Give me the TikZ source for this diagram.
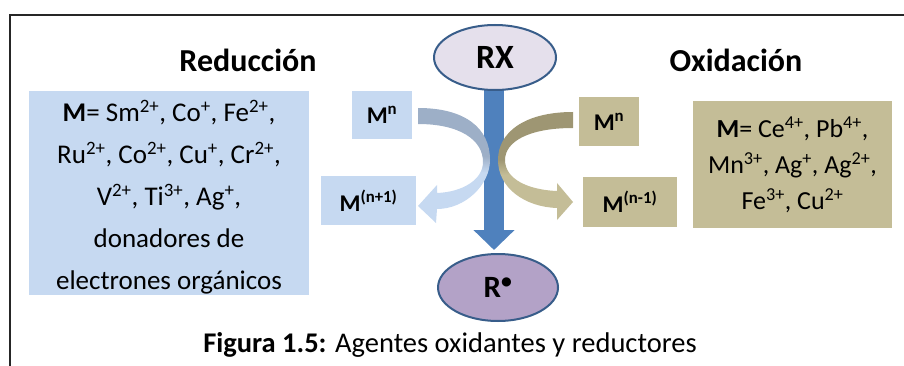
\documentclass[tikz,border=0pt]{standalone}
\usepackage{fontspec}
\setmainfont{Carlito}
\usetikzlibrary{shapes.geometric,arrows.meta}

\definecolor{redfill}{HTML}{C6D9F1}
\definecolor{reddark}{HTML}{9DAFC7}
\definecolor{oxfill}{HTML}{C4BD97}
\definecolor{oxdark}{HTML}{9E9673}
\definecolor{shaftblue}{HTML}{4F81BD}
\definecolor{rimblue}{HTML}{385D8A}
\definecolor{rxfill}{HTML}{E5E0EC}
\definecolor{rfill}{HTML}{B3A2C7}

\pgfdeclareverticalshading{redshade}{100bp}{color(0bp)=(redfill); color(47bp)=(redfill); color(54bp)=(reddark); color(100bp)=(reddark)}
\pgfdeclareverticalshading{oxshade}{100bp}{color(0bp)=(oxfill); color(46bp)=(oxfill); color(53bp)=(oxdark); color(100bp)=(oxdark)}

\tikzset{
  title/.style={font=\fontsize{32}{38}\selectfont\bfseries},
  redbox/.style={fill=redfill, inner sep=0pt, align=center},
  oxbox/.style={fill=oxfill, inner sep=0pt, align=center},
  mlabel/.style={font=\fontsize{24}{29}\selectfont\bfseries},
  species/.style={ellipse, draw=rimblue, line width=2pt, inner sep=0pt, font=\bfseries}
}

\begin{document}
\begin{tikzpicture}[x=1pt,y=-1pt]
  \useasboundingbox (0,0) rectangle (904,366);
  % frame
  \draw[line width=2pt, black!85] (10,366) -- (10,15) -- (904,15);
  % titles
  \node[title] (redtitle) at (248,60) {Reducción};
  \node[title] (oxtitle) at (736,60) {Oxidación};
  % metal lists
  \node[redbox, minimum width=280pt, minimum height=204pt,
        font=\fontsize{27}{42}\selectfont] (redlist) at (169,193)
    {\rule{0pt}{30pt}\textbf{M}= Sm\textsuperscript{2+}, Co\textsuperscript{+}, Fe\textsuperscript{2+},\\
     Ru\textsuperscript{2+}, Co\textsuperscript{2+}, Cu\textsuperscript{+}, Cr\textsuperscript{2+},\\
     V\textsuperscript{2+}, Ti\textsuperscript{3+}, Ag\textsuperscript{+},\\
     donadores de\\
     electrones orgánicos};
  \node[oxbox, minimum width=199pt, minimum height=127pt,
        font=\fontsize{26}{36}\selectfont] (oxlist) at (792.5,164.5)
    {\textbf{M}= Ce\textsuperscript{4+}, Pb\textsuperscript{4+},\\
     Mn\textsuperscript{3+}, Ag\textsuperscript{+}, Ag\textsuperscript{2+},\\
     Fe\textsuperscript{3+}, Cu\textsuperscript{2+}};
  % metal states
  \node[redbox, mlabel, minimum width=60pt, minimum height=48pt] (redmn) at (382,115) {M\textsuperscript{n}};
  \node[redbox, mlabel, minimum width=95pt, minimum height=49pt] (redmnp) at (368.5,200.5) {M\textsuperscript{(n+1)}};
  \node[oxbox, mlabel, minimum width=60pt, minimum height=49pt] (oxmn) at (609,121.5) {M\textsuperscript{n}};
  \node[oxbox, mlabel, minimum width=94pt, minimum height=50pt] (oxmnm) at (630,202) {M\textsuperscript{(n-1)}};
  % RX -> R
  \node[species, fill=rfill, minimum width=120pt, minimum height=67pt,
        font=\fontsize{31}{36}\selectfont\bfseries] (rdot) at (498,287.5) {R\textsuperscript{•}};
  \draw[shaftblue, line width=20pt, -{Triangle[width=40pt,length=20pt]}, shorten >=4pt]
    (494,57.5) -- (494,254);
  \node[species, fill=rxfill, minimum width=122pt, minimum height=65pt,
        font=\fontsize{34}{40}\selectfont\bfseries] (rx) at (495,57.5) {RX};
  % curved arrows
  \shade[shading=redshade] (418,108) .. controls (465,108) and (490,128) .. (490,160)
    .. controls (490,185) and (465,209) .. (437,209) -- (436,223) -- (418,206) -- (437,185) -- (437,193)
    .. controls (462,192) and (483,180) .. (483,162) .. controls (483,140) and (460,124) .. (418,124) -- cycle;
  \shade[shading=oxshade] (573,112) .. controls (525,112) and (498,132) .. (498,160)
    .. controls (498,188) and (525,207) .. (557,208) -- (557,220) -- (573,202) -- (557,183) -- (557,191)
    .. controls (530,190) and (505,180) .. (505,160) .. controls (505,142) and (528,128) .. (573,128) -- cycle;
  % caption
  \node[font=\fontsize{28.5}{34}\selectfont] (caption) at (450,345) {\textbf{Figura 1.5:} Agentes oxidantes y reductores};
\end{tikzpicture}
\end{document}
